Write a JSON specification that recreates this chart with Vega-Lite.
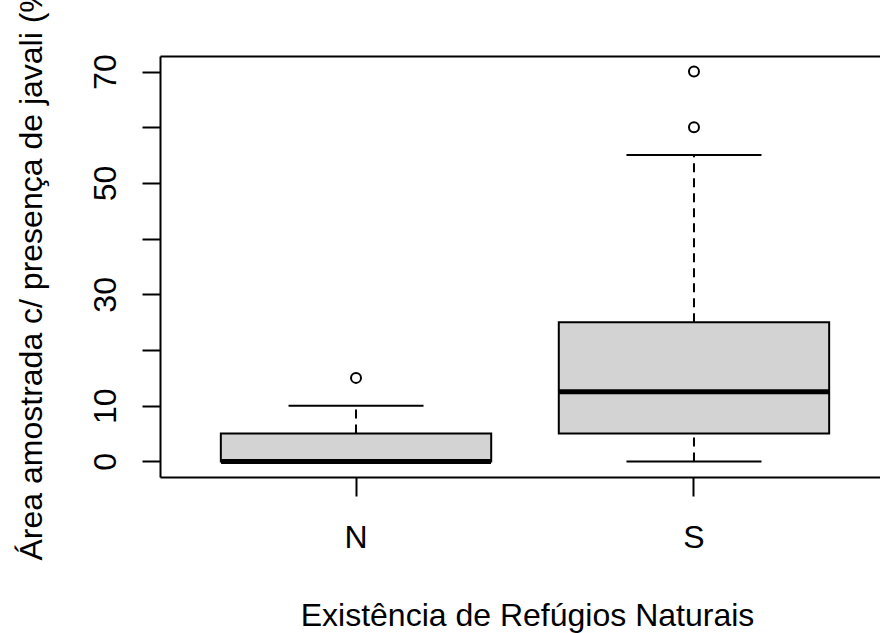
{
  "$schema": "https://vega.github.io/schema/vega-lite/v6.json",
  "width": 720,
  "height": 421,
  "autosize": {"type": "none"},
  "padding": {"left": 160, "top": 56, "right": 0, "bottom": 156},
  "background": "white",
  "config": {
    "view": {"stroke": null},
    "font": "Liberation Sans",
    "axis": {
      "domainColor": "black",
      "domainWidth": 2,
      "tickColor": "black",
      "tickWidth": 2,
      "labelColor": "black",
      "labelFont": "Liberation Sans",
      "labelFontSize": 32,
      "titleColor": "black",
      "titleFont": "Liberation Sans",
      "titleFontSize": 32,
      "titleFontWeight": "normal",
      "grid": false,
      "labelOverlap": false,
      "labelFlush": false
    }
  },
  "datasets": {
    "resumo": [
      {"grupo": "N", "minimo": 0, "q1": 0, "mediana": 0, "q3": 5, "maximo": 10},
      {"grupo": "S", "minimo": 0, "q1": 5, "mediana": 12.5, "q3": 25, "maximo": 55}
    ],
    "outliers": [
      {"grupo": "N", "valor": 15},
      {"grupo": "S", "valor": 60},
      {"grupo": "S", "valor": 70}
    ]
  },
  "layer": [
    {
      "data": {"name": "resumo"},
      "mark": {"type": "rule", "strokeDash": [9, 6], "strokeWidth": 2, "color": "black"},
      "encoding": {
        "x": {"field": "grupo", "type": "nominal", "scale": {"type": "band", "domain": ["N", "S"], "range": [0, 730], "paddingInner": 0.2, "paddingOuter": 0.18}, "axis": null},
        "y": {"field": "minimo", "type": "quantitative", "scale": {"domain": [-2.8, 72.8], "nice": false, "zero": false}},
        "y2": {"field": "q1"}
      }
    },
    {
      "data": {"name": "resumo"},
      "mark": {"type": "rule", "strokeDash": [9, 6], "strokeWidth": 2, "color": "black"},
      "encoding": {
        "x": {"field": "grupo", "type": "nominal", "scale": {"type": "band", "domain": ["N", "S"], "range": [0, 730], "paddingInner": 0.2, "paddingOuter": 0.18}, "axis": null},
        "y": {"field": "q3", "type": "quantitative", "scale": {"domain": [-2.8, 72.8], "nice": false, "zero": false}},
        "y2": {"field": "maximo"}
      }
    },
    {
      "data": {"name": "resumo"},
      "mark": {"type": "bar", "fill": "#d3d3d3", "stroke": "black", "strokeWidth": 2},
      "encoding": {
        "x": {
          "field": "grupo",
          "type": "nominal",
          "scale": {"type": "band", "domain": ["N", "S"], "range": [0, 730], "paddingInner": 0.2, "paddingOuter": 0.18},
          "axis": {
            "orient": "bottom",
            "title": "Existência de Refúgios Naturais",
            "labelAngle": 0,
            "tickSize": 19,
            "labelPadding": 51,
            "labelBaseline": "alphabetic",
            "titleX": 367,
            "titleY": 148,
            "titleAlign": "center",
            "titleBaseline": "alphabetic"
          }
        },
        "y": {
          "field": "q1",
          "type": "quantitative",
          "scale": {"domain": [-2.8, 72.8], "nice": false, "zero": false},
          "axis": {
            "title": "Área amostrada c/ presença de javali (%)",
            "values": [0, 10, 20, 30, 40, 50, 60, 70],
            "labelExpr": "datum.value == 0 || datum.value % 20 == 10 ? datum.label : ''",
            "labelAngle": -90,
            "labelAlign": "center",
            "labelBaseline": "alphabetic",
            "tickSize": 18,
            "labelPadding": 27,
            "titleAngle": -90,
            "titleX": -119,
            "titleY": 210.5,
            "titleAlign": "center",
            "titleBaseline": "alphabetic"
          }
        },
        "y2": {"field": "q3"}
      }
    },
    {
      "data": {"name": "resumo"},
      "mark": {"type": "tick", "color": "black", "size": 270, "thickness": 5, "opacity": 1},
      "encoding": {
        "x": {
          "field": "grupo",
          "type": "nominal",
          "scale": {"type": "band", "domain": ["N", "S"], "range": [0, 730], "paddingInner": 0.2, "paddingOuter": 0.18},
          "axis": {"orient": "top", "title": null, "labels": false, "ticks": false, "domain": true}
        },
        "y": {"field": "mediana", "type": "quantitative", "scale": {"domain": [-2.8, 72.8], "nice": false, "zero": false}}
      }
    },
    {
      "data": {"name": "resumo"},
      "mark": {"type": "tick", "color": "black", "size": 135, "thickness": 2, "opacity": 1},
      "encoding": {
        "x": {"field": "grupo", "type": "nominal", "scale": {"type": "band", "domain": ["N", "S"], "range": [0, 730], "paddingInner": 0.2, "paddingOuter": 0.18}, "axis": null},
        "y": {"field": "minimo", "type": "quantitative", "scale": {"domain": [-2.8, 72.8], "nice": false, "zero": false}}
      }
    },
    {
      "data": {"name": "resumo"},
      "mark": {"type": "tick", "color": "black", "size": 135, "thickness": 2, "opacity": 1},
      "encoding": {
        "x": {"field": "grupo", "type": "nominal", "scale": {"type": "band", "domain": ["N", "S"], "range": [0, 730], "paddingInner": 0.2, "paddingOuter": 0.18}, "axis": null},
        "y": {"field": "maximo", "type": "quantitative", "scale": {"domain": [-2.8, 72.8], "nice": false, "zero": false}}
      }
    },
    {
      "data": {"name": "outliers"},
      "mark": {"type": "point", "shape": "circle", "filled": false, "size": 100, "strokeWidth": 2, "color": "black", "opacity": 1},
      "encoding": {
        "x": {"field": "grupo", "type": "nominal", "scale": {"type": "band", "domain": ["N", "S"], "range": [0, 730], "paddingInner": 0.2, "paddingOuter": 0.18}, "axis": null},
        "y": {"field": "valor", "type": "quantitative", "scale": {"domain": [-2.8, 72.8], "nice": false, "zero": false}}
      }
    }
  ],
  "resolve": {"axis": {"x": "independent"}}
}
